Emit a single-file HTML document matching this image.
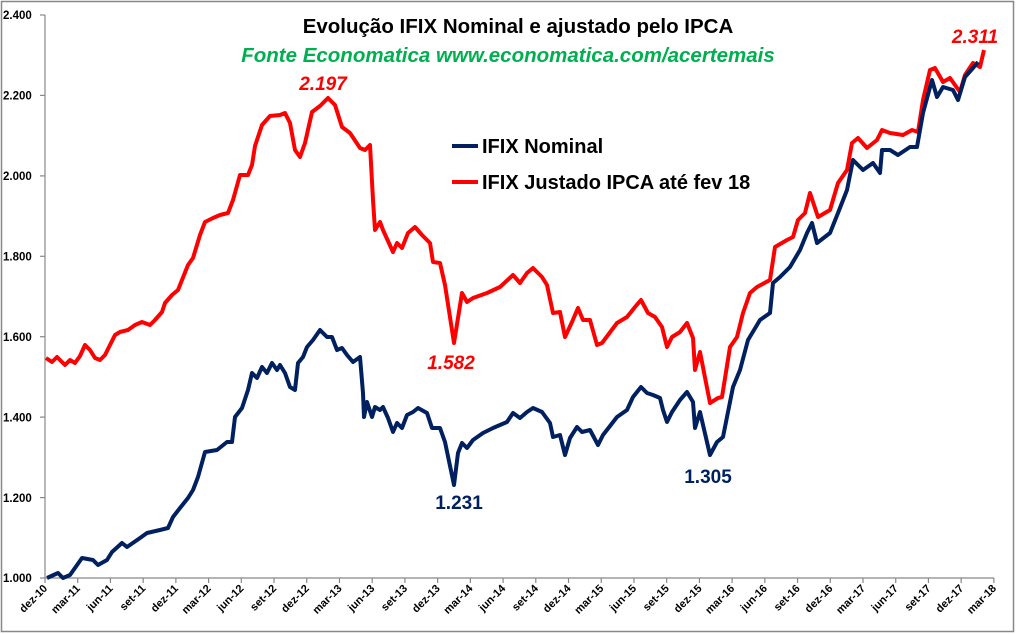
<!DOCTYPE html>
<html><head><meta charset="utf-8"><style>
html,body{margin:0;padding:0;background:#fff;}
svg{display:block;font-family:"Liberation Sans",sans-serif;}
</style></head><body>
<svg width="1016" height="634" viewBox="0 0 1016 634" xmlns="http://www.w3.org/2000/svg">
<rect x="1.5" y="1.5" width="1012" height="630" fill="#fff" stroke="#888" stroke-width="1.5"/>
<g stroke="#888" stroke-width="1.2" fill="none">
<line x1="45" y1="15" x2="45" y2="578"/>
<line x1="45" y1="578" x2="994" y2="578"/>
<line x1="40" y1="15" x2="45" y2="15"/><line x1="40" y1="95.4" x2="45" y2="95.4"/><line x1="40" y1="175.9" x2="45" y2="175.9"/><line x1="40" y1="256.3" x2="45" y2="256.3"/><line x1="40" y1="336.7" x2="45" y2="336.7"/><line x1="40" y1="417.1" x2="45" y2="417.1"/><line x1="40" y1="497.6" x2="45" y2="497.6"/><line x1="40" y1="578" x2="45" y2="578"/>
<line x1="45" y1="578" x2="45" y2="583"/><line x1="77.72" y1="578" x2="77.72" y2="583"/><line x1="110.44" y1="578" x2="110.44" y2="583"/><line x1="143.16" y1="578" x2="143.16" y2="583"/><line x1="175.88" y1="578" x2="175.88" y2="583"/><line x1="208.6" y1="578" x2="208.6" y2="583"/><line x1="241.32" y1="578" x2="241.32" y2="583"/><line x1="274.04" y1="578" x2="274.04" y2="583"/><line x1="306.76" y1="578" x2="306.76" y2="583"/><line x1="339.48" y1="578" x2="339.48" y2="583"/><line x1="372.2" y1="578" x2="372.2" y2="583"/><line x1="404.92" y1="578" x2="404.92" y2="583"/><line x1="437.64" y1="578" x2="437.64" y2="583"/><line x1="470.36" y1="578" x2="470.36" y2="583"/><line x1="503.08" y1="578" x2="503.08" y2="583"/><line x1="535.8" y1="578" x2="535.8" y2="583"/><line x1="568.52" y1="578" x2="568.52" y2="583"/><line x1="601.24" y1="578" x2="601.24" y2="583"/><line x1="633.96" y1="578" x2="633.96" y2="583"/><line x1="666.68" y1="578" x2="666.68" y2="583"/><line x1="699.4" y1="578" x2="699.4" y2="583"/><line x1="732.12" y1="578" x2="732.12" y2="583"/><line x1="764.84" y1="578" x2="764.84" y2="583"/><line x1="797.56" y1="578" x2="797.56" y2="583"/><line x1="830.28" y1="578" x2="830.28" y2="583"/><line x1="863" y1="578" x2="863" y2="583"/><line x1="895.72" y1="578" x2="895.72" y2="583"/><line x1="928.44" y1="578" x2="928.44" y2="583"/><line x1="961.16" y1="578" x2="961.16" y2="583"/><line x1="993.88" y1="578" x2="993.88" y2="583"/>
</g>
<g font-size="11.5" font-weight="bold" fill="#000">
<text x="3" y="19">2.400</text><text x="3" y="99.5">2.200</text><text x="3" y="180">2.000</text><text x="3" y="260.5">1.800</text><text x="3" y="341">1.600</text><text x="3" y="421.5">1.400</text><text x="3" y="502">1.200</text><text x="3" y="582">1.000</text>
</g>
<g font-size="11" font-weight="bold" fill="#000" text-anchor="end">
<text transform="translate(48,589) rotate(-45)">dez-10</text>
<text transform="translate(80.72,589) rotate(-45)">mar-11</text>
<text transform="translate(113.44,589) rotate(-45)">jun-11</text>
<text transform="translate(146.16,589) rotate(-45)">set-11</text>
<text transform="translate(178.88,589) rotate(-45)">dez-11</text>
<text transform="translate(211.6,589) rotate(-45)">mar-12</text>
<text transform="translate(244.32,589) rotate(-45)">jun-12</text>
<text transform="translate(277.04,589) rotate(-45)">set-12</text>
<text transform="translate(309.76,589) rotate(-45)">dez-12</text>
<text transform="translate(342.48,589) rotate(-45)">mar-13</text>
<text transform="translate(375.2,589) rotate(-45)">jun-13</text>
<text transform="translate(407.92,589) rotate(-45)">set-13</text>
<text transform="translate(440.64,589) rotate(-45)">dez-13</text>
<text transform="translate(473.36,589) rotate(-45)">mar-14</text>
<text transform="translate(506.08,589) rotate(-45)">jun-14</text>
<text transform="translate(538.8,589) rotate(-45)">set-14</text>
<text transform="translate(571.52,589) rotate(-45)">dez-14</text>
<text transform="translate(604.24,589) rotate(-45)">mar-15</text>
<text transform="translate(636.96,589) rotate(-45)">jun-15</text>
<text transform="translate(669.68,589) rotate(-45)">set-15</text>
<text transform="translate(702.4,589) rotate(-45)">dez-15</text>
<text transform="translate(735.12,589) rotate(-45)">mar-16</text>
<text transform="translate(767.84,589) rotate(-45)">jun-16</text>
<text transform="translate(800.56,589) rotate(-45)">set-16</text>
<text transform="translate(833.28,589) rotate(-45)">dez-16</text>
<text transform="translate(866,589) rotate(-45)">mar-17</text>
<text transform="translate(898.72,589) rotate(-45)">jun-17</text>
<text transform="translate(931.44,589) rotate(-45)">set-17</text>
<text transform="translate(964.16,589) rotate(-45)">dez-17</text>
<text transform="translate(996.88,589) rotate(-45)">mar-18</text>
</g>
<polyline fill="none" stroke="#ff0000" stroke-width="4" stroke-linejoin="round" points="46,358 52,362 57,357 65,365 70,360 75,363 80,356 85,345 90,350 95,358 100,360 105,355 110,345 115,335 120,332 128,330 135,325 142,322 150,325 155,320 162,312 165,303 172,295 178,290 188,265 193,258 200,235 205,222 213,218 220,215 228,213 233,200 240,175 248,175 252,165 255,146 262,125 270,116 280,115 285,113 290,123 295,150 300,157 305,143 312,112 320,106 328,98 335,105 342,127 350,133 360,148 365,150 370,145 373,200 375,230 380,222 383,230 393,252 397,243 402,248 408,233 415,227 422,235 430,243 433,262 440,263 445,285 454,343 462,293 467,302 473,298 487,293 500,287 513,275 520,283 527,273 533,268 542,277 547,285 553,313 560,312 565,337 572,322 578,308 583,320 590,320 597,345 602,343 617,323 627,317 635,307 641,300 648,313 655,317 662,327 667,347 672,337 680,332 687,323 693,338 695,370 700,352 710,403 718,398 722,397 730,347 737,337 743,313 750,293 757,287 770,280 775,247 787,240 793,237 798,220 805,213 810,193 818,217 830,210 838,183 847,170 852,143 858,138 867,148 877,140 882,130 890,133 903,135 912,130 918,132 923,100 930,70 935,68 943,82 950,78 960,92 965,75 973,63 980,67 984,50"/>
<polyline fill="none" stroke="#002060" stroke-width="4" stroke-linejoin="round" points="47,578 58,573 63,578 70,575 82,558 93,560 98,565 107,560 112,552 122,543 127,547 140,538 147,533 160,530 168,528 173,517 180,508 188,498 193,490 198,477 205,452 217,450 227,442 232,442 235,417 242,408 248,390 252,373 257,378 262,367 267,373 272,363 277,370 280,365 285,373 290,387 295,390 298,363 303,357 307,347 313,340 320,330 327,337 332,337 337,350 342,348 347,355 353,362 360,357 363,393 364,417 367,402 372,417 375,407 380,410 383,407 388,418 393,432 397,423 402,428 407,415 413,412 418,408 427,413 432,428 440,428 445,442 454,485 458,453 462,443 467,448 473,440 483,433 493,428 507,422 513,413 520,418 527,412 533,408 542,412 550,423 553,437 560,435 565,455 570,438 577,427 582,432 590,430 598,445 603,435 617,417 627,410 633,397 641,387 647,393 653,395 660,398 663,410 667,422 672,412 680,400 687,392 693,402 695,428 700,412 710,455 717,442 723,437 733,387 740,370 748,340 760,320 770,313 773,283 780,277 790,267 800,250 807,233 812,223 817,243 830,233 838,213 847,190 853,160 863,170 873,163 880,173 882,150 890,150 898,155 910,147 917,147 923,113 932,80 937,97 943,87 953,90 958,100 965,77 973,68 978,62"/>
<text x="518" y="33" font-size="20.5" font-weight="bold" text-anchor="middle" fill="#000">Evolução IFIX Nominal e ajustado  pelo IPCA</text>
<text x="508" y="62" font-size="20.5" font-weight="bold" font-style="italic" text-anchor="middle" fill="#00b050">Fonte Economatica www.economatica.com/acertemais</text>
<line x1="452" y1="146" x2="478" y2="146" stroke="#002060" stroke-width="4"/>
<text x="482" y="153" font-size="20" font-weight="bold" fill="#000">IFIX Nominal</text>
<line x1="452" y1="182" x2="478" y2="182" stroke="#ff0000" stroke-width="4"/>
<text x="482" y="189" font-size="20" font-weight="bold" fill="#000">IFIX Justado IPCA até fev 18</text>
<g font-size="19" font-weight="bold">
<text x="323" y="90" font-style="italic" fill="#ff0000" text-anchor="middle">2.197</text>
<text x="451" y="369" font-style="italic" fill="#ff0000" text-anchor="middle">1.582</text>
<text x="459" y="509" fill="#002060" text-anchor="middle">1.231</text>
<text x="708" y="483" fill="#002060" text-anchor="middle">1.305</text>
<text x="975" y="43" font-style="italic" fill="#ff0000" text-anchor="middle">2.311</text>
</g>
</svg>
</body></html>
